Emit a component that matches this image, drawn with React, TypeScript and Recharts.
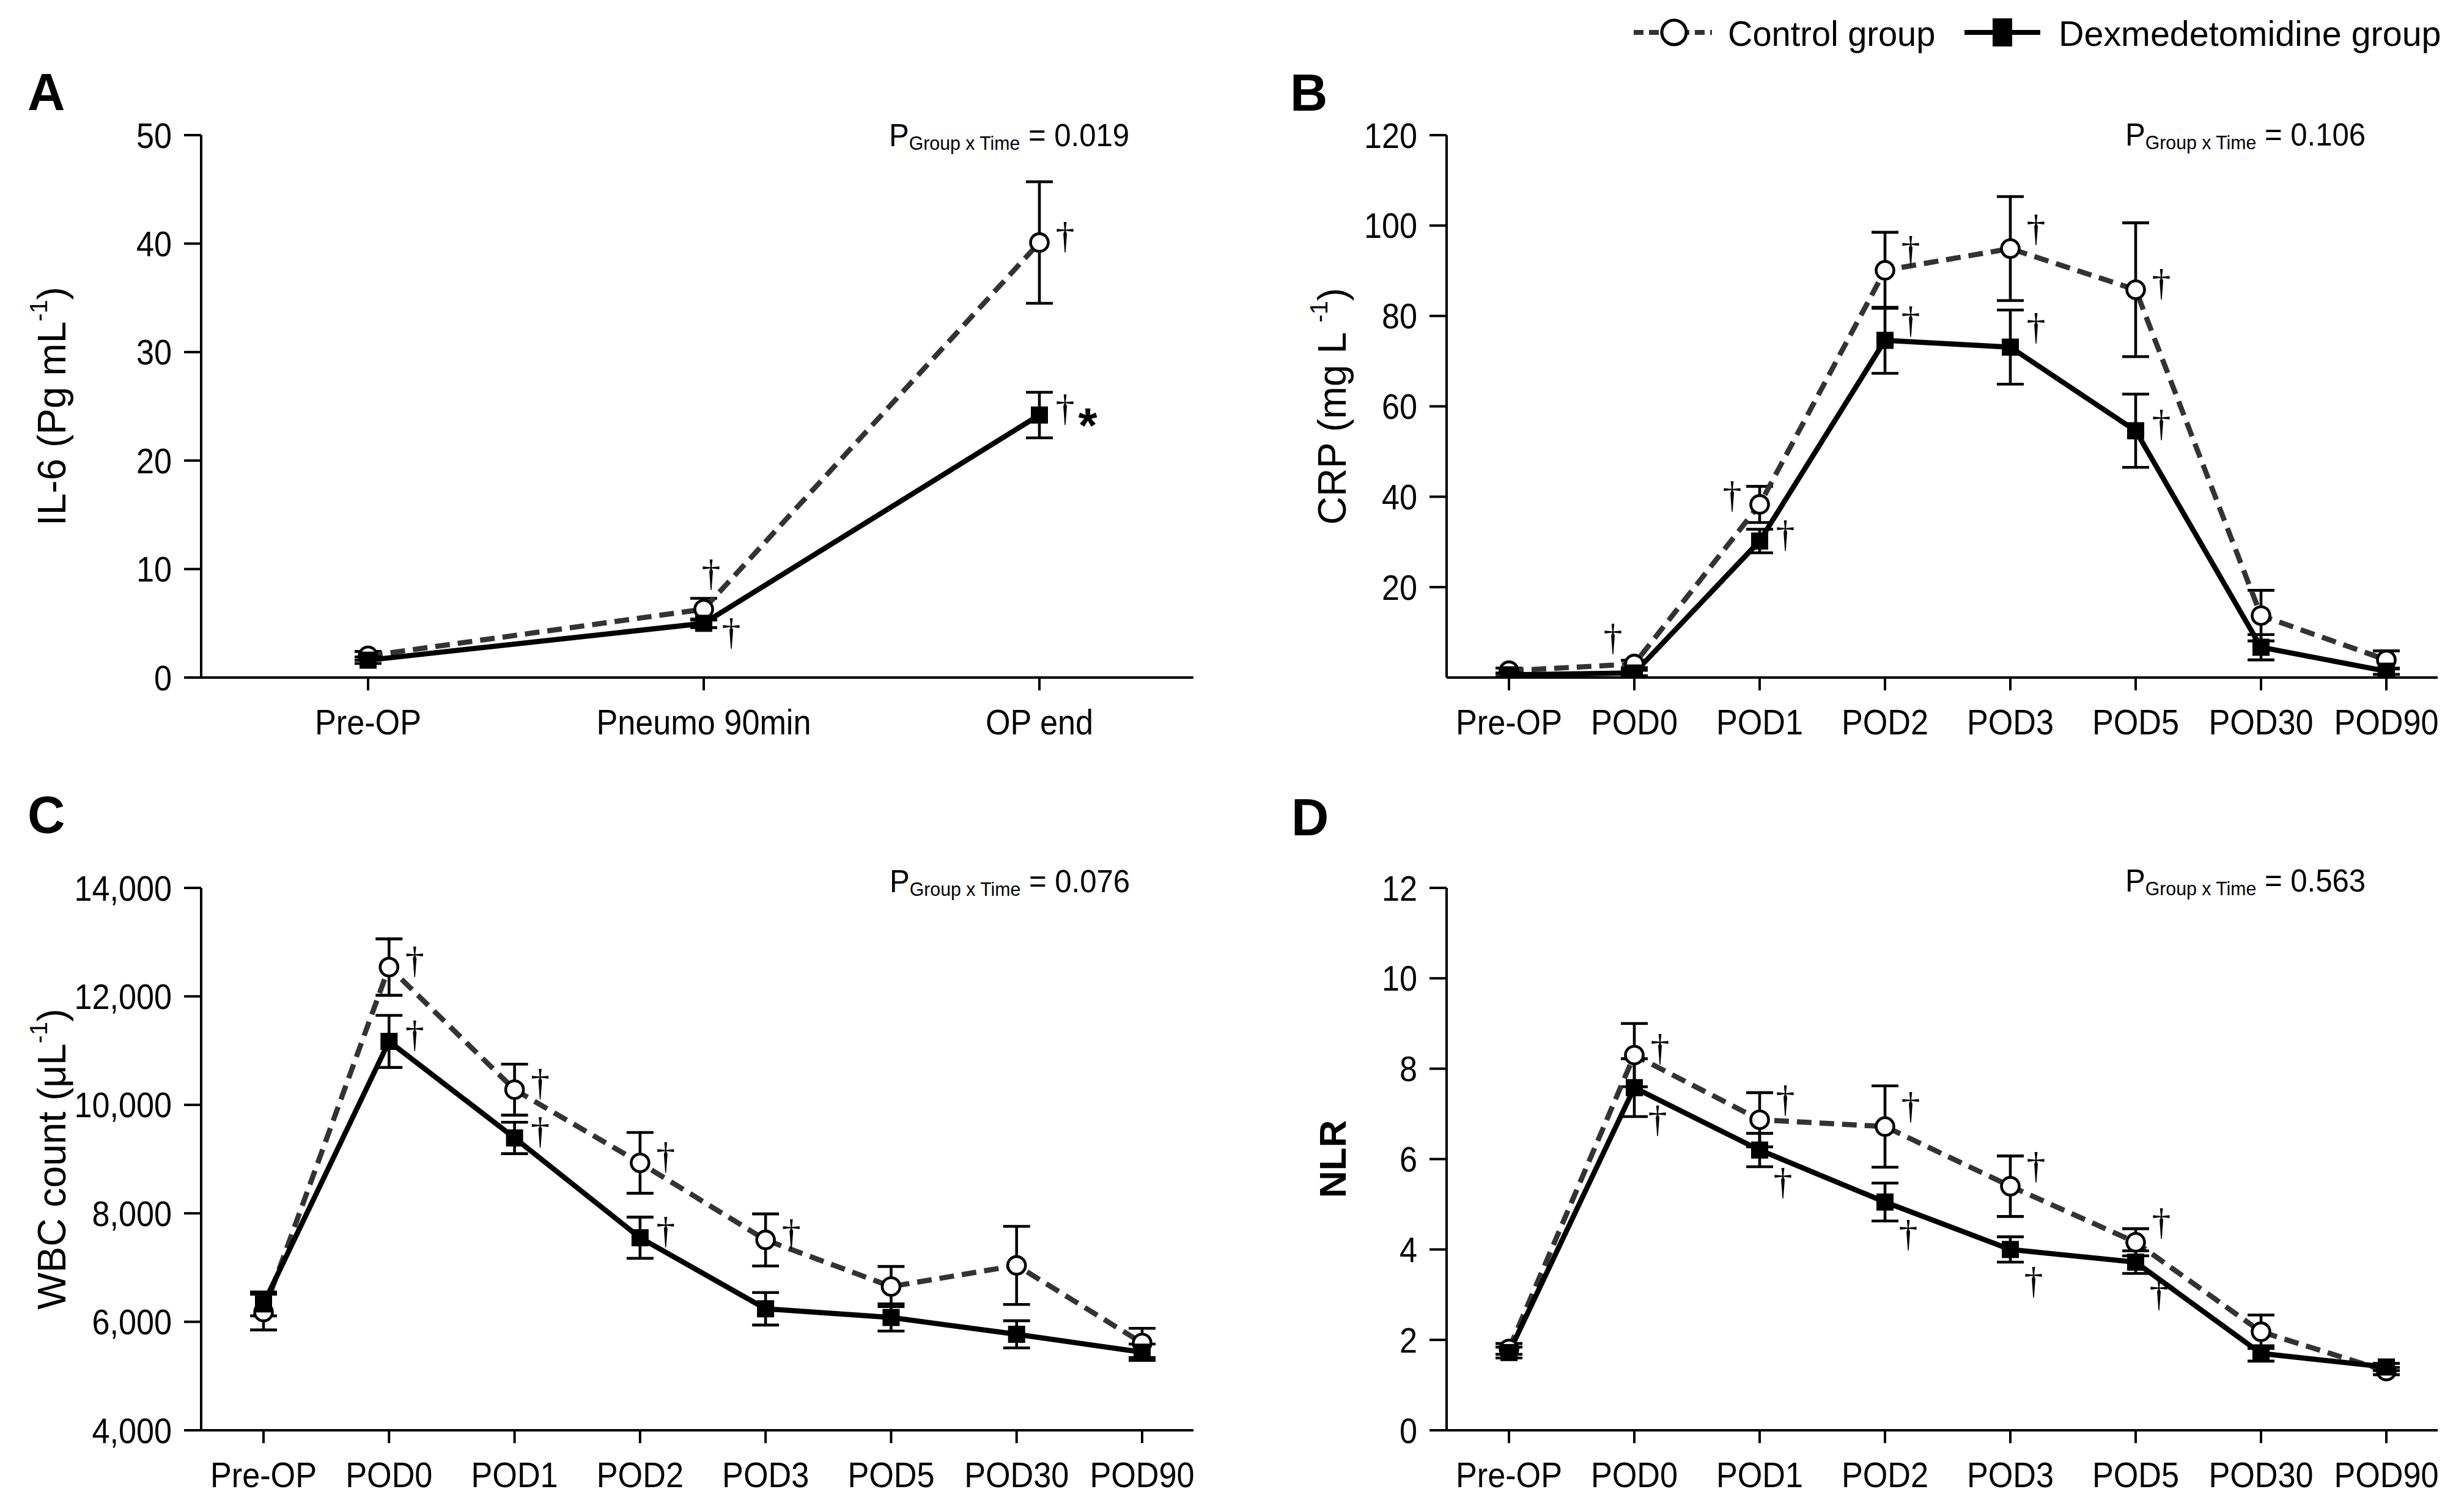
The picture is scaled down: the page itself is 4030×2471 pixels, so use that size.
import React from 'react';
import { LineChart, Line, XAxis, YAxis, ErrorBar } from 'recharts';

// ---------- Data ----------
const catsA = ['Pre-OP', 'Pneumo 90min', 'OP end'];
const il6Control = [2.0, 6.3, 40.1];
const il6ControlErr = [0.4, 1.0, 5.6];
const il6Dex = [1.6, 5.0, 24.2];
const il6DexErr = [0.3, 0.4, 2.1];
const il6ControlMarks = ['', '†', '†'];
const il6DexMarks = ['', '†', '†*'];

const catsPOD = ['Pre-OP', 'POD0', 'POD1', 'POD2', 'POD3', 'POD5', 'POD30', 'POD90'];

const crpControl = [1.5, 3.0, 38.3, 90.1, 94.9, 85.8, 13.7, 3.9];
const crpControlErr = [0.6, 0.8, 4.0, 8.4, 11.5, 14.8, 5.6, 2.0];
const crpDex = [0.6, 1.0, 30.2, 74.6, 73.1, 54.6, 6.7, 1.4];
const crpDexErr = [0.4, 0.6, 2.6, 7.3, 8.2, 8.1, 2.8, 0.7];
const crpControlMarks = ['', '†', '†', '†', '†', '†', '', ''];
const crpDexMarks = ['', '', '†', '†', '†', '†', '', ''];

const wbcControl = [6180, 12540, 10280, 8930, 7510, 6650, 7040, 5610];
const wbcControlErr = [330, 520, 470, 560, 480, 370, 720, 270];
const wbcDex = [6330, 11170, 9390, 7550, 6240, 6080, 5770, 5440];
const wbcDexErr = [220, 480, 290, 380, 300, 250, 250, 150];
const wbcControlMarks = ['', '†', '†', '†', '†', '', '', ''];
const wbcDexMarks = ['', '†', '†', '†', '', '', '', ''];

const nlrControl = [1.8, 8.3, 6.87, 6.72, 5.4, 4.16, 2.18, 1.31];
const nlrControlErr = [0.12, 0.7, 0.6, 0.9, 0.67, 0.3, 0.37, 0.08];
const nlrDex = [1.72, 7.58, 6.2, 5.05, 4.0, 3.72, 1.7, 1.4];
const nlrDexErr = [0.12, 0.64, 0.37, 0.42, 0.28, 0.25, 0.17, 0.08];
const nlrControlMarks = ['', '†', '†', '†', '†', '†', '', ''];
const nlrDexMarks = ['', '†', '†', '†', '†', '†', '', ''];

const ticksA = [0, 10, 20, 30, 40, 50];
const ticksB = [20, 40, 60, 80, 100, 120];
const ticksC = [4000, 6000, 8000, 10000, 12000, 14000];
const ticksD = [0, 2, 4, 6, 8, 10, 12];

// annotation placement codes (layout, separate from data)
const placeA_c = ['', 'u', 'r'];
const placeA_d = ['', 'rd', 'r'];
const placeB_c = ['', 'ul', 'l', 'ur', 'ur', 'r', '', ''];
const placeB_d = ['', '', 'r', 'ur', 'ur', 'r', '', ''];
const placeC_c = ['', 'r', 'r', 'r', 'r', '', '', ''];
const placeC_d = ['', 'r', 'r', 'r', '', '', '', ''];
const placeD_c = ['', 'r', 'ur', 'ur', 'ur', 'ur', '', ''];
const placeD_d = ['', 'lr', 'lr', 'lr', 'lr', 'lr', '', ''];

// ---------- Styling ----------
const FONT = "'Liberation Sans', Arial, Helvetica, sans-serif";
const SERIF = "'Liberation Serif', 'DejaVu Serif', serif";
const OFFSETS: Record<string, [number, number]> = {
  r: [42, -8],
  rd: [45, 18],
  ur: [42, -30],
  lr: [38, 55],
  u: [12, -55],
  ul: [-35, -40],
  l: [-45, -12],
};

function buildRows(
  cats: string[], c: number[], cErr: number[], d: number[], dErr: number[],
  cMarks: string[], dMarks: string[], cPlaces: string[], dPlaces: string[]
) {
  return cats.map((cat, i) => ({
    cat, c: c[i], cErr: cErr[i], d: d[i], dErr: dErr[i],
    cMark: cMarks[i], dMark: dMarks[i], cPlace: cPlaces[i], dPlace: dPlaces[i],
  }));
}

const rowsA = buildRows(catsA, il6Control, il6ControlErr, il6Dex, il6DexErr, il6ControlMarks, il6DexMarks, placeA_c, placeA_d);
const rowsB = buildRows(catsPOD, crpControl, crpControlErr, crpDex, crpDexErr, crpControlMarks, crpDexMarks, placeB_c, placeB_d);
const rowsC = buildRows(catsPOD, wbcControl, wbcControlErr, wbcDex, wbcDexErr, wbcControlMarks, wbcDexMarks, placeC_c, placeC_d);
const rowsD = buildRows(catsPOD, nlrControl, nlrControlErr, nlrDex, nlrDexErr, nlrControlMarks, nlrDexMarks, placeD_c, placeD_d);

function Mark({ x, y, text, place }: { x: number; y: number; text: string; place: string }) {
  if (!text) return null;
  const [dx, dy] = OFFSETS[place] || OFFSETS.r;
  const cx = x + dx;
  const base = y + dy + 17;
  const star = text.indexOf('*') >= 0;
  return (
    <text x={cx - 15.5} y={base} fontFamily={SERIF} fontSize={62} fill="#000">
      †
      {star ? (
        <tspan fontFamily={FONT} fontWeight="bold" fontSize={80} dx={6} dy={35}>*</tspan>
      ) : null}
    </text>
  );
}

const ctrlDot = (props: any) => {
  const { cx, cy, index, payload } = props;
  if (cx == null || cy == null) return <g key={`cd${index}`} />;
  return (
    <g key={`cd${index}`}>
      <circle cx={cx} cy={cy} r={14.5} fill="#fff" stroke="#000" strokeWidth={4.6} />
      <Mark x={cx} y={cy} text={payload.cMark} place={payload.cPlace} />
    </g>
  );
};

const dexDot = (props: any) => {
  const { cx, cy, index, payload } = props;
  if (cx == null || cy == null) return <g key={`dd${index}`} />;
  return (
    <g key={`dd${index}`}>
      <rect x={cx - 14} y={cy - 14} width={28} height={28} fill="#000" />
      <Mark x={cx} y={cy} text={payload.dMark} place={payload.dPlace} />
    </g>
  );
};

const XTick = (props: any) => {
  const { x, y, payload } = props;
  return (
    <g transform={`translate(${x},${y})`}>
      <text transform="scale(0.9,1)" textAnchor="middle" dy="0.71em" fontSize={58} fontFamily={FONT} fill="#000">
        {payload.value}
      </text>
    </g>
  );
};

const makeYTick = (fmt: (v: number) => string) => (props: any) => {
  const { x, y, payload } = props;
  return (
    <g transform={`translate(${x},${y})`}>
      <text transform="scale(0.9,1)" textAnchor="end" dy="0.355em" fontSize={58} fontFamily={FONT} fill="#000">
        {fmt(payload.value)}
      </text>
    </g>
  );
};

const plain = (v: number) => String(v);
const comma = (v: number) => v.toLocaleString('en-US');

const PLOT_TOP = 221;
const PLOT_H = 887;
const XAXIS_H = 120;

type PanelProps = {
  left: number; top: number; width: number; height: number;
  ml: number; mr: number;
  rows: any[]; domain: [number, number]; ticks: number[]; fmt: (v: number) => string;
  pad: { left: number; right: number };
  yLabel: React.ReactNode; yLabelX: number; yLabelBold?: boolean;
  letter: string; letterX: number; letterY: number;
  pValue: string; pX: number; pY: number;
};

function Panel(p: PanelProps) {
  const bottom = p.height - PLOT_TOP - PLOT_H - XAXIS_H;
  const labelCY = PLOT_TOP + PLOT_H / 2;
  return (
    <div style={{ position: 'absolute', left: p.left, top: p.top, width: p.width, height: p.height }}>
      <LineChart width={p.width} height={p.height} data={p.rows}
        margin={{ top: PLOT_TOP, right: p.mr, bottom, left: p.ml }}>
        <XAxis dataKey="cat" interval={0} padding={p.pad} stroke="#000"
          axisLine={{ stroke: '#000', strokeWidth: 4 }} tickLine={{ stroke: '#000', strokeWidth: 4 }}
          tickSize={21} tickMargin={31} height={XAXIS_H} tick={XTick} />
        <YAxis type="number" domain={p.domain} ticks={p.ticks} width={200} stroke="#000"
          axisLine={{ stroke: '#000', strokeWidth: 4 }} tickLine={{ stroke: '#000', strokeWidth: 4 }}
          tickSize={28} tickMargin={20} tick={makeYTick(p.fmt)} allowDataOverflow />
        <Line type="linear" dataKey="c" stroke="#333" strokeWidth={8.5} strokeDasharray="24 13"
          dot={ctrlDot} activeDot={false} isAnimationActive={false}>
          <ErrorBar dataKey="cErr" width={22} strokeWidth={4.6} stroke="#000" direction="y" isAnimationActive={false} />
        </Line>
        <Line type="linear" dataKey="d" stroke="#000" strokeWidth={8.5}
          dot={dexDot} activeDot={false} isAnimationActive={false}>
          <ErrorBar dataKey="dErr" width={22} strokeWidth={4.6} stroke="#000" direction="y" isAnimationActive={false} />
        </Line>
      </LineChart>
      <svg width={p.width} height={p.height} style={{ position: 'absolute', left: 0, top: 0, pointerEvents: 'none' }}>
        <text x={p.letterX} y={p.letterY} fontFamily={FONT} fontWeight="bold" fontSize={85} fill="#000">{p.letter}</text>
        <text x={p.yLabelX} y={labelCY} transform={`rotate(-90, ${p.yLabelX}, ${labelCY})`} textAnchor="middle"
          dominantBaseline="central" fontFamily={FONT} fontSize={p.yLabelBold ? 62 : 64}
          fontWeight={p.yLabelBold ? 'bold' : 'normal'} fill="#000">{p.yLabel}</text>
        <g transform={`translate(${p.pX},${p.pY}) scale(0.945,1)`}>
          <text x={0} y={0} fontFamily={FONT} fontSize={52} fill="#000">
            P<tspan fontSize={32} dy={6}>Group x Time</tspan><tspan dy={-6}>{` = ${p.pValue}`}</tspan>
          </text>
        </g>
      </svg>
    </div>
  );
}

const sup = (s: string) => <tspan baselineShift="super" fontSize={40}>{s}</tspan>;

function Legend() {
  return (
    <svg width={1430} height={120} style={{ position: 'absolute', left: 2600, top: 0 }}>
      <line x1={72} y1={53} x2={200} y2={53} stroke="#333" strokeWidth={8} strokeDasharray="16 9" />
      <circle cx={138} cy={53} r={20} fill="#fff" stroke="#000" strokeWidth={5} />
      <g transform="translate(226,75) scale(0.966,1)">
        <text x={0} y={0} fontFamily={FONT} fontSize={58} fill="#000">Control group</text>
      </g>
      <line x1={613} y1={53} x2={737} y2={53} stroke="#000" strokeWidth={8} />
      <rect x={659} y={30} width={32} height={46} fill="#000" />
      <g transform="translate(767,75) scale(0.99,1)">
        <text x={0} y={0} fontFamily={FONT} fontSize={58} fill="#000">Dexmedetomidine group</text>
      </g>
    </svg>
  );
}

export default function App() {
  return (
    <div style={{ position: 'absolute', left: 0, top: 0, width: 4030, height: 2471, background: '#fff', overflow: 'hidden' }}>
      <Panel left={0} top={0} width={2000} height={1240} ml={129} mr={48}
        rows={rowsA} domain={[0, 50]} ticks={ticksA} fmt={plain} pad={{ left: 273, right: 252 }}
        yLabel={<>IL-6 (Pg mL{sup('-1')})</>} yLabelX={85}
        letter="A" letterX={45} letterY={180} pValue="0.019" pX={1454} pY={239} />
      <Panel left={2000} top={0} width={2030} height={1240} ml={166} mr={43}
        rows={rowsB} domain={[0, 120]} ticks={ticksB} fmt={plain} pad={{ left: 102, right: 84 }}
        yLabel={<>CRP (mg L {sup('-1')})</>} yLabelX={179}
        letter="B" letterX={110} letterY={181} pValue="0.106" pX={1476} pY={238} />
      <Panel left={0} top={1231} width={2000} height={1240} ml={129} mr={48}
        rows={rowsC} domain={[4000, 14000]} ticks={ticksC} fmt={comma} pad={{ left: 102, right: 84 }}
        yLabel={<>WBC count (μL{sup('-1')})</>} yLabelX={85}
        letter="C" letterX={45} letterY={131} pValue="0.076" pX={1455} pY={228} />
      <Panel left={2000} top={1231} width={2030} height={1240} ml={166} mr={43}
        rows={rowsD} domain={[0, 12]} ticks={ticksD} fmt={plain} pad={{ left: 102, right: 84 }}
        yLabel={<>NLR</>} yLabelX={179} yLabelBold
        letter="D" letterX={112} letterY={135} pValue="0.563" pX={1476} pY={227} />
      <Legend />
    </div>
  );
}
